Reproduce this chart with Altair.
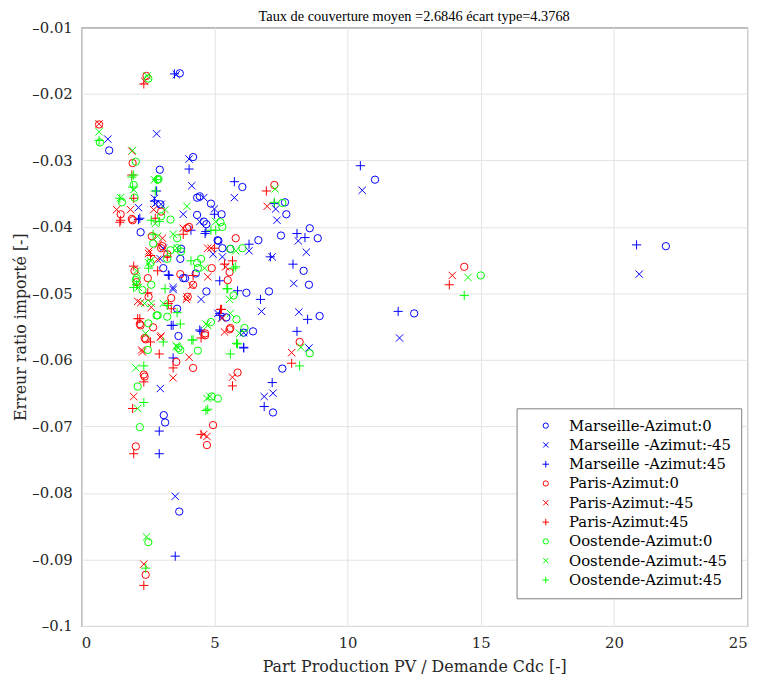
import altair as alt
import pandas as pd

series_names = ["Marseille-Azimut:0", "Marseille -Azimut:-45", "Marseille -Azimut:45",
                "Paris-Azimut:0", "Paris-Azimut:-45", "Paris-Azimut:45",
                "Oostende-Azimut:0", "Oostende-Azimut:-45", "Oostende-Azimut:45"]
series_colors = ["#0000ff", "#0000ff", "#0000ff",
                 "#ff0000", "#ff0000", "#ff0000",
                 "#00ff00", "#00ff00", "#00ff00"]

marseille_0 = [(3.7,-0.0169),(1.05,-0.0285),(4.2,-0.0295),(2.95,-0.0314),(4.35,-0.0356),(6.05,-0.034),
               (7.65,-0.0363),(7.7,-0.0381),(7.5,-0.0413),(8.58,-0.0402),(8.88,-0.0417),(6.65,-0.042),
               (8.35,-0.0466),(4.87,-0.0365),(5.27,-0.0381),(4.7,-0.0396),(5.15,-0.0421),(5.6,-0.0433),
               (8.55,-0.0487),(7.05,-0.0497),(6.2,-0.0499),(4.7,-0.0497),(8.95,-0.0534),(6.45,-0.0557),
               (7.55,-0.0613),(7.2,-0.0679),(5.45,-0.0536),(11.03,-0.0329),(12.5,-0.053),(21.95,-0.0429),
               (3.65,-0.0564),(3.1,-0.0683),(3.15,-0.0694),(3.68,-0.0828),(2.23,-0.0408),(3.08,-0.0462),
               (3.6,-0.0523),(3.83,-0.0477),(2.97,-0.0366),(4.35,-0.0382),(3.75,-0.0433),(4.6,-0.0392),
               (5.3,-0.0432),(3.72,-0.0448),(3.9,-0.0477),(4.3,-0.047),(5.12,-0.042),(6.1,-0.0559),(4.45,-0.0354)]
marseille_m45 = [(2.83,-0.026),(1.0,-0.0268),(4.05,-0.0298),(4.15,-0.0338),(3.57,-0.0171),(2.75,-0.0357),
                 (5.75,-0.0356),(7.3,-0.0373),(7.35,-0.039),(8.15,-0.0421),(8.45,-0.0438),(7.17,-0.0445),
                 (6.3,-0.0436),(4.6,-0.0356),(5.0,-0.0373),(4.95,-0.0441),(5.3,-0.0445),(7.98,-0.0485),
                 (6.77,-0.0527),(8.17,-0.0528),(8.55,-0.0582),(6.87,-0.0655),(7.2,-0.065),(4.5,-0.0509),
                 (5.27,-0.0537),(6.1,-0.0559),(10.55,-0.0345),(11.95,-0.0567),(20.95,-0.0471),(2.97,-0.0643),
                 (3.53,-0.0805),(2.15,-0.0371),(3.08,-0.0432),(3.45,-0.0494),(3.83,-0.0381),(2.78,-0.0365),
                 (4.45,-0.0392),(3.45,-0.0491),(2.97,-0.0448),(5.13,-0.053),(3.0,-0.0366)]
marseille_p45 = [(3.5,-0.017),(4.05,-0.0313),(2.83,-0.0346),(5.75,-0.0332),(7.25,-0.0365),(8.1,-0.041),
                 (8.4,-0.0416),(7.1,-0.0445),(7.95,-0.0456),(4.65,-0.041),(5.0,-0.0381),(6.3,-0.0426),
                 (5.2,-0.0481),(5.87,-0.0496),(6.73,-0.0509),(8.5,-0.0539),(8.1,-0.0557),(6.1,-0.0581),
                 (5.2,-0.0533),(7.17,-0.0634),(6.87,-0.067),(4.45,-0.0555),(10.48,-0.0308),(11.9,-0.0527),
                 (20.85,-0.0427),(3.45,-0.0548),(2.93,-0.0707),(2.93,-0.0741),(3.53,-0.0895),(2.2,-0.0387),
                 (3.3,-0.0473),(2.15,-0.0389),(4.12,-0.0405),(4.68,-0.0407),(3.27,-0.0472),(2.75,-0.0361),
                 (3.38,-0.0548),(4.5,-0.0557),(3.45,-0.0597),(5.2,-0.053),(6.1,-0.0582)]
paris_0 = [(2.45,-0.0173),(0.67,-0.0246),(1.93,-0.0304),(7.25,-0.0337),(5.8,-0.0417),(5.5,-0.048),
           (4.9,-0.0462),(5.6,-0.0552),(4.65,-0.056),(8.2,-0.0573),(5.87,-0.0619),(14.38,-0.046),
           (1.48,-0.0381),(1.93,-0.039),(3.97,-0.0402),(3.23,-0.0441),(2.5,-0.0477),(2.08,-0.0483),
           (2.53,-0.0505),(3.38,-0.0507),(4.0,-0.0505),(4.2,-0.0487),(2.23,-0.0548),(2.7,-0.0551),
           (2.0,-0.0466),(3.05,-0.0429),(2.2,-0.0546),(2.38,-0.0567),(3.57,-0.0603),(4.2,-0.0612),
           (2.35,-0.0622),(2.05,-0.073),(4.72,-0.0728),(4.65,-0.0563),(2.42,-0.0923),(3.0,-0.0377),
           (1.9,-0.0388),(2.65,-0.0414),(4.05,-0.04),(3.0,-0.0432),(3.72,-0.0471),(5.57,-0.0468),
           (4.95,-0.0698),(5.57,-0.0554),(2.42,-0.0569),(2.38,-0.0625)]
paris_m45 = [(2.38,-0.0181),(0.67,-0.0245),(6.98,-0.0369),(4.75,-0.0475),(5.3,-0.0537),(5.38,-0.0558),
             (7.9,-0.0589),(5.68,-0.0626),(13.93,-0.0473),(1.33,-0.0374),(1.85,-0.0374),(2.53,-0.044),
             (2.23,-0.0514),(2.63,-0.0521),(3.97,-0.0505),(3.05,-0.0417),(2.9,-0.0426),(3.83,-0.0402),
             (4.75,-0.0432),(2.3,-0.0588),(2.97,-0.0566),(3.45,-0.0627),(1.97,-0.0655),(4.05,-0.0596),
             (4.6,-0.0712),(4.72,-0.0715),(2.35,-0.0907),(1.9,-0.0286),(2.72,-0.0374),(2.55,-0.0436),
             (2.87,-0.0449),(5.42,-0.046),(4.15,-0.0488),(4.87,-0.0432),(2.12,-0.0512),(3.95,-0.0509),
             (3.0,-0.0564),(2.27,-0.0585)]
paris_p45 = [(2.35,-0.0185),(1.9,-0.0322),(6.95,-0.0346),(5.38,-0.0456),(5.27,-0.0524),(7.9,-0.0605),
             (5.68,-0.0639),(4.5,-0.0567),(13.82,-0.0487),(1.45,-0.0393),(1.97,-0.0459),(2.5,-0.0499),
             (2.12,-0.0538),(3.27,-0.0515),(3.38,-0.0523),(2.87,-0.0466),(3.23,-0.0445),(3.83,-0.0411),
             (1.97,-0.0357),(2.6,-0.0573),(2.93,-0.0591),(2.35,-0.0633),(3.45,-0.0612),(1.93,-0.0673),
             (1.97,-0.0741),(4.5,-0.0712),(2.35,-0.0939),(1.48,-0.039),(2.78,-0.0387),(2.6,-0.0443),
             (4.2,-0.0473),(5.0,-0.0432),(5.68,-0.0451),(2.2,-0.0538),(5.23,-0.0524)]
oostende_0 = [(2.52,-0.0177),(0.7,-0.0273),(2.05,-0.0302),(1.97,-0.0337),(2.0,-0.0356),(2.87,-0.0329),
              (7.55,-0.0364),(5.23,-0.0393),(6.05,-0.0432),(5.72,-0.0503),(5.83,-0.0539),(4.87,-0.0543),
              (6.13,-0.0552),(8.58,-0.059),(5.13,-0.0658),(4.9,-0.0655),(15.0,-0.0473),(3.0,-0.0384),
              (3.35,-0.0389),(2.7,-0.0425),(3.35,-0.0435),(3.75,-0.0437),(2.6,-0.0454),(2.05,-0.048),
              (2.3,-0.0495),(2.87,-0.0533),(3.23,-0.0535),(4.35,-0.0454),(2.52,-0.0545),(2.5,-0.0585),
              (2.12,-0.064),(3.65,-0.0582),(4.38,-0.0586),(2.2,-0.0701),(2.52,-0.0874),(2.9,-0.0328),
              (1.53,-0.0363),(5.3,-0.04),(3.6,-0.0417),(3.6,-0.0432),(5.6,-0.0433),(3.23,-0.0448),
              (4.5,-0.0448),(4.38,-0.0462),(2.08,-0.0477),(2.63,-0.0487),(2.83,-0.0533),(3.72,-0.0585)]
oostende_m45 = [(2.48,-0.0173),(0.67,-0.0257),(1.93,-0.0285),(1.97,-0.0344),(1.48,-0.0356),(7.28,-0.0343),
                (5.57,-0.0509),(5.6,-0.053),(4.68,-0.0546),(5.95,-0.056),(8.25,-0.0581),(4.83,-0.0655),
                (14.52,-0.0476),(2.78,-0.0395),(2.87,-0.0414),(3.6,-0.0432),(2.53,-0.0454),(2.08,-0.0466),
                (2.15,-0.0491),(2.38,-0.0515),(3.08,-0.0515),(2.42,-0.056),(2.05,-0.0612),(2.12,-0.0673),
                (3.6,-0.058),(4.72,-0.0658),(4.75,-0.0548),(2.45,-0.0866),(2.75,-0.0329),(3.15,-0.0374),
                (3.97,-0.0369),(5.05,-0.0392),(3.45,-0.0411),(2.6,-0.0451),(4.63,-0.0462),(5.8,-0.0436),
                (2.63,-0.0515),(3.57,-0.0579)]
oostende_p45 = [(0.67,-0.027),(1.9,-0.0325),(1.93,-0.034),(2.78,-0.0346),(1.45,-0.0357),(2.83,-0.0329),
                (7.25,-0.0363),(4.87,-0.0405),(5.8,-0.046),(5.5,-0.0493),(5.87,-0.0576),(5.6,-0.0591),
                (8.2,-0.0609),(4.75,-0.0674),(14.38,-0.0503),(2.93,-0.0392),(2.7,-0.0411),(2.53,-0.0462),
                (2.08,-0.0487),(3.15,-0.0493),(3.23,-0.0518),(3.6,-0.0529),(3.72,-0.0546),(2.35,-0.0609),
                (2.35,-0.0664),(4.2,-0.057),(3.08,-0.0573),(2.42,-0.0913),(1.97,-0.0322),(2.63,-0.039),
                (5.05,-0.0405),(4.12,-0.0451),(5.72,-0.0462),(1.97,-0.0491),(5.47,-0.0493),(4.15,-0.057),
                (4.68,-0.0676),(5.83,-0.0575)]

all_series = [marseille_0, marseille_m45, marseille_p45,
              paris_0, paris_m45, paris_p45,
              oostende_0, oostende_m45, oostende_p45]

x_ticks = [0, 5, 10, 15, 20, 25]
y_ticks = [-0.1, -0.09, -0.08, -0.07, -0.06, -0.05, -0.04, -0.03, -0.02, -0.01]

rows = []
for name, pts in zip(series_names, all_series):
    for xv, yv in pts:
        rows.append({"x": xv, "y": yv, "series": name})
df = pd.DataFrame(rows)

X_PATH = "M-1,-1L1,1M-1,1L1,-1"
PLUS_PATH = "M-1.25,0L1.25,0M0,-1.25L0,1.25"
series_shapes = ["circle", X_PATH, PLUS_PATH] * 3

FONT = "DejaVu Serif"

legend = alt.Legend(
    title=None, orient="none", legendX=440, legendY=385,
    fillColor="white", strokeColor="#808080", padding=10,
    symbolOffset=12, labelOffset=16, symbolSize=28, symbolStrokeWidth=1,
    labelFont=FONT, labelFontSize=15, labelColor="#000000", rowPadding=3.5,
    labelLimit=300,
)

chart = alt.Chart(df).mark_point(filled=False, size=55, strokeWidth=1, opacity=1).encode(
    x=alt.X("x:Q", scale=alt.Scale(domain=[0, 25], nice=False, zero=False),
            axis=alt.Axis(values=x_ticks, title="Part Production PV / Demande Cdc [-]",
                          labelPadding=10, titlePadding=8)),
    y=alt.Y("y:Q", scale=alt.Scale(domain=[-0.1, -0.01], nice=False, zero=False),
            axis=alt.Axis(values=y_ticks, format=".2~f",
                          labelExpr="replace(datum.label, '\u2212', '\u2013')",
                          title="Erreur ratio importé [-]",
                          labelPadding=9, titlePadding=3)),
    color=alt.Color("series:N", scale=alt.Scale(domain=series_names, range=series_colors), legend=legend),
    shape=alt.Shape("series:N", scale=alt.Scale(domain=series_names, range=series_shapes), legend=legend),
).properties(
    width=673, height=605,
    title=alt.TitleParams("Taux de couverture moyen =2.6846 écart type=4.3768",
                          font="Liberation Serif", fontSize=14.5, fontWeight="normal",
                          color="#000000", offset=-4, anchor="middle"),
    autosize=alt.AutoSizeParams(type="none"),
    padding={"left": 74, "top": 16, "right": 11, "bottom": 50},
).configure_view(
    stroke="#262626", strokeWidth=1
).configure_axis(
    grid=True, gridColor="#e3e3e3", gridWidth=1, ticks=False, domain=False,
    labelFont=FONT, labelFontSize=15, labelColor="#262626",
    titleFont=FONT, titleFontSize=16, titleFontWeight="normal", titleColor="#262626",
)

chart.save("out.html", embed_options={"renderer": "svg", "actions": False})
